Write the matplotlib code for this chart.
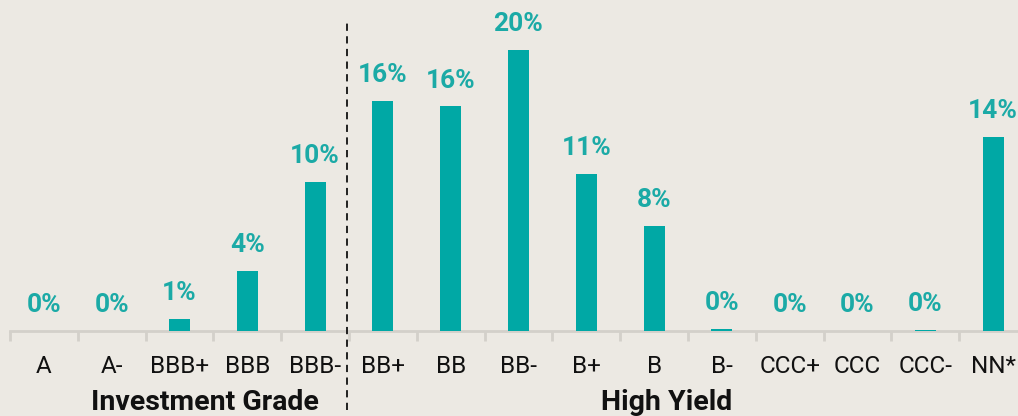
import numpy as np
import matplotlib
matplotlib.use("Agg")
import matplotlib.pyplot as plt
from matplotlib.ticker import FixedLocator

ratings = ["A", "A-", "BBB+", "BBB", "BBB-", "BB+", "BB", "BB-",
           "B+", "B", "B-", "CCC+", "CCC", "CCC-", "NN*"]
shares = [0.0, 0.0, 0.85, 4.3, 10.6, 16.4, 16.0, 20.0,
          11.2, 7.5, 0.15, 0.0, 0.0, 0.1, 13.8]
labels = ["0%", "0%", "1%", "4%", "10%", "16%", "16%", "20%",
          "11%", "8%", "0%", "0%", "0%", "0%", "14%"]
groups = ["Investment Grade", "High Yield"]
group_pos = [2.38, 9.19]

BG = "#ECE9E3"
TEAL = "#00A8A5"
LABEL_TEAL = "#1BAAA6"
AXIS_GREY = "#D3D0CA"

plt.rcParams["font.family"] = ["Roboto", "DejaVu Sans"]

fig = plt.figure(figsize=(10.18, 4.16), dpi=100, facecolor=BG)
# axes spans slightly past right edge, like the source
ax = fig.add_axes([10 / 1018, 85 / 416, 1017 / 1018, 309 / 416])
ax.set_facecolor(BG)

x = np.arange(len(ratings))
ax.bar(x, shares, width=0.31, color=TEAL, zorder=3)

for xi, v, lab in zip(x, shares, labels):
    ax.annotate(lab, (xi, v), xytext=(0, 18.5), textcoords="offset points",
                ha="center", va="center", fontsize=19, fontweight="bold",
                color=LABEL_TEAL, annotation_clip=False)

ax.set_xlim(-0.5, len(ratings) - 0.5)
ax.set_ylim(0, 22)

for s in ["top", "right", "left"]:
    ax.spines[s].set_visible(False)
ax.spines["bottom"].set_color(AXIS_GREY)
ax.spines["bottom"].set_linewidth(2)

ax.set_yticks([])
ax.set_xticks(x)
ax.set_xticklabels(ratings, fontsize=17.5, color="#111111")
ax.tick_params(axis="x", which="major", length=0, pad=17)
ax.xaxis.set_minor_locator(FixedLocator(np.arange(-0.5, len(ratings), 1.0)))
ax.tick_params(axis="x", which="minor", length=7, width=2, color=AXIS_GREY)

# divider between IG and HY
ax.plot([4.47, 4.47], [-5.6, 22.2], ls=(0, (4, 3)), color="#111111",
        lw=1.3, clip_on=False, zorder=4)

for g, gp in zip(groups, group_pos):
    ax.text(gp, -5.1, g, ha="center", va="center", fontsize=20.5,
            fontweight="bold", color="#111111")

fig.savefig("out.png", dpi=100, facecolor=BG)
